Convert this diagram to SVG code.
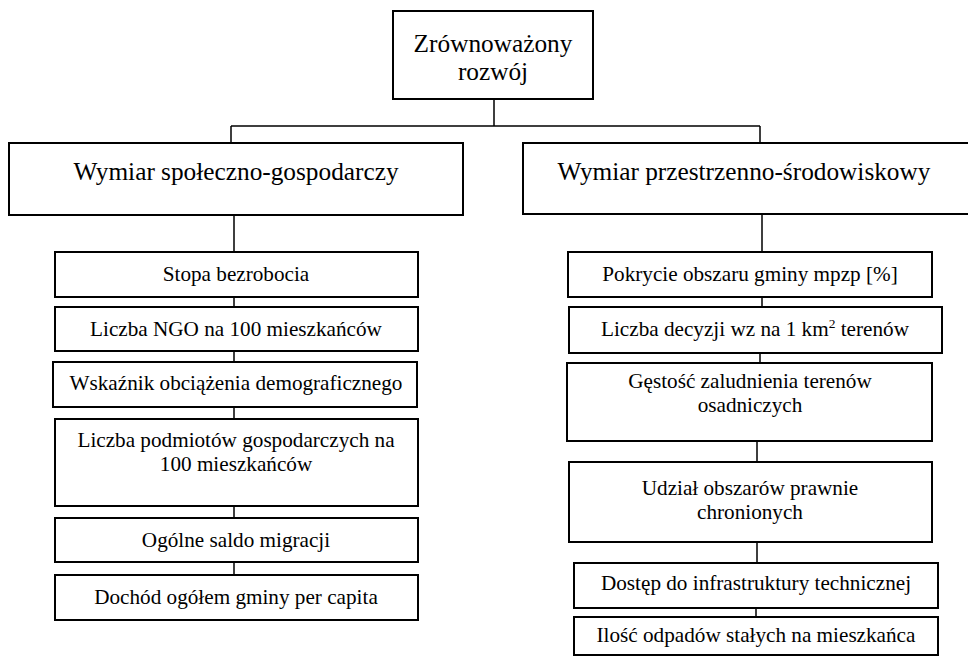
<svg xmlns="http://www.w3.org/2000/svg" width="968" height="656" viewBox="0 0 968 656">
<style>
.box{fill:#fff;stroke:#000;stroke-width:2}
.ln{stroke:#000;stroke-width:1.5;fill:none}
.t{font-family:'Liberation Serif','Times New Roman',serif;fill:#000;text-anchor:middle}
.big{font-size:25.3px}
.sm{font-size:21.2px}
</style>
<rect width="968" height="656" fill="#fff"/>
<g id="connectors">
<path class="ln" d="M494,99V126M231,126H760M231,126V143M760,126V143"/>
<path class="ln" d="M234,215V252M234,297V307M234,351V362M234,407V419M234,506V518M234,562V575"/>
<path class="ln" d="M762,214V252M762,297V307M760,353V363M757,441V462M757,542V563M756,608V617"/>
</g>
<g id="root"><rect class="box" x="393" y="11" width="200" height="88"/><text class="t big" x="493" y="52">Zrównoważony</text><text class="t big" x="493" y="80">rozwój</text></g>
<g id="dim1"><rect class="box" x="9" y="143" width="454" height="72"/><text class="t big" x="236" y="180">Wymiar społeczno-gospodarczy</text></g>
<g id="dim2"><rect class="box" x="523" y="143" width="447" height="71"/><text class="t big" x="744" y="180">Wymiar przestrzenno-środowiskowy</text></g>
<g id="l1"><rect class="box" x="55" y="252" width="363" height="45"/><text class="t sm" x="236" y="281">Stopa bezrobocia</text></g>
<g id="l2"><rect class="box" x="55" y="307" width="363" height="44"/><text class="t sm" x="236" y="336">Liczba NGO na 100 mieszkańców</text></g>
<g id="l3"><rect class="box" x="53" y="362" width="364" height="45"/><text class="t sm" x="236" y="390">Wskaźnik obciążenia demograficznego</text></g>
<g id="l4"><rect class="box" x="55" y="419" width="363" height="87"/><text class="t sm" x="236" y="447">Liczba podmiotów gospodarczych na</text><text class="t sm" x="236" y="471">100 mieszkańców</text></g>
<g id="l5"><rect class="box" x="55" y="518" width="363" height="44"/><text class="t sm" x="236" y="547">Ogólne saldo migracji</text></g>
<g id="l6"><rect class="box" x="55" y="575" width="363" height="45"/><text class="t sm" x="236" y="604">Dochód ogółem gminy per capita</text></g>
<g id="r1"><rect class="box" x="568" y="252" width="364" height="45"/><text class="t sm" x="750" y="281">Pokrycie obszaru gminy mpzp [%]</text></g>
<g id="r2"><rect class="box" x="569" y="307" width="373" height="46"/><text class="t sm" x="755" y="336">Liczba decyzji wz na 1 km<tspan font-size="13.5" dy="-8">2</tspan><tspan dy="8"> terenów</tspan></text></g>
<g id="r3"><rect class="box" x="567" y="363" width="365" height="78"/><text class="t sm" x="750" y="388">Gęstość zaludnienia terenów</text><text class="t sm" x="750" y="412">osadniczych</text></g>
<g id="r4"><rect class="box" x="569" y="462" width="363" height="80"/><text class="t sm" x="750" y="495">Udział obszarów prawnie</text><text class="t sm" x="750" y="519">chronionych</text></g>
<g id="r5"><rect class="box" x="574" y="563" width="364" height="45"/><text class="t sm" x="756" y="590">Dostęp do infrastruktury technicznej</text></g>
<g id="r6"><rect class="box" x="574" y="617" width="364" height="38"/><text class="t sm" x="756" y="642">Ilość odpadów stałych na mieszkańca</text></g>
</svg>
